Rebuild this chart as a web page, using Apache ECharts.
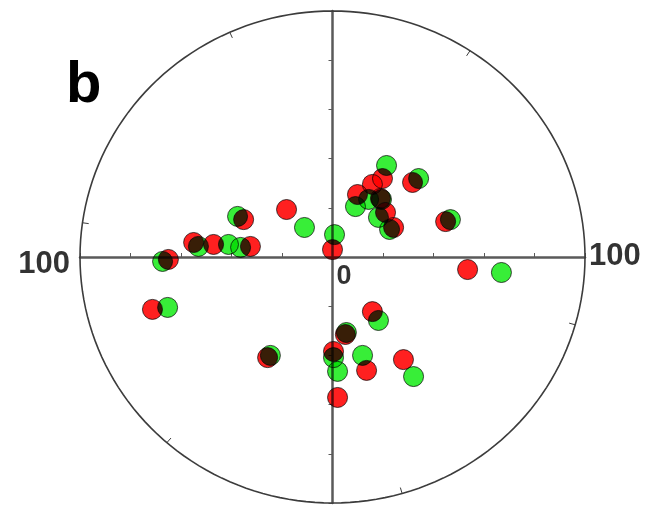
<!DOCTYPE html>
<html>
<head>
<meta charset="utf-8">
<script src="https://cdn.jsdelivr.net/npm/echarts@6/dist/echarts.min.js"></script>
<style>
  html, body { margin: 0; padding: 0; background: #fff; }
  #chart { width: 652px; height: 505px; }
</style>
</head>
<body>
<div id="chart"></div>
<script>
// data, x/y in axis units (-100..100)
var redPoints = [
  [19.8, 31.9], [15.8, 29.5], [9.9, 25.4], [19.0, 23.8], [21.0, 18.1],
  [24.2, 12.0], [31.7, 30.3], [44.8, 14.4], [0.0, 3.0], [-65.0, -1.0],
  [-55.0, 5.9], [-47.1, 5.1], [-32.5, 4.3], [-35.2, 15.2], [-18.2, 19.3],
  [15.8, -22.2], [5.1, -31.5], [-25.7, -40.9], [0.4, -38.4], [13.5, -46.1],
  [28.1, -41.7], [2.0, -57.1], [53.5, -5.1], [-71.3, -21.3]
];
var greenPoints = [
  [21.4, 37.2], [9.1, 20.5], [14.3, 23.4], [19.4, 23.4], [18.2, 16.1],
  [22.6, 11.2], [34.1, 31.9], [46.7, 15.2], [0.8, 9.1], [-67.3, -1.8],
  [-53.1, 4.3], [-41.2, 5.1], [-36.4, 3.9], [-37.6, 16.5], [-11.1, 12.0],
  [18.2, -25.8], [5.5, -30.7], [-24.6, -40.0], [0.4, -40.9], [11.9, -40.0],
  [2.0, -46.5], [32.1, -48.6], [66.9, -6.3], [-65.3, -20.5]
];
// small ticks on the outer circle (azimuth, degrees clockwise from north)
var ringTicks = [33, 106, 164, 221, 278, 336];
// axis end labels
var tickLabels = [
  { value: [-100, 0], text: '100' },
  { value: [0, 0], text: '0' },
  { value: [100, 0], text: '100' }
];
var panelLabel = 'b';

var chart = echarts.init(document.getElementById('chart'), null, { renderer: 'canvas' });

var axisCommon = {
  type: 'value',
  min: -100,
  max: 100,
  interval: 20,
  axisLine: { show: true, onZero: true, lineStyle: { color: '#5a5a5a', width: 2.5 } },
  axisLabel: { show: false },
  splitLine: { show: false }
};

chart.setOption({
  animation: false,
  backgroundColor: '#fff',
  grid: { left: 80, right: 67, top: 11, bottom: 2 },
  xAxis: Object.assign({}, axisCommon, {
    axisTick: { show: true, inside: true, length: 4, lineStyle: { color: '#5a5a5a', width: 1 } }
  }),
  yAxis: Object.assign({}, axisCommon, {
    axisTick: { show: true, inside: false, length: 4, lineStyle: { color: '#5a5a5a', width: 1 } }
  }),
  graphic: [{
    type: 'text',
    x: 66,
    y: 86,
    style: {
      text: panelLabel,
      font: 'bold 58px "Liberation Sans", Arial, sans-serif',
      fill: '#000',
      verticalAlign: 'middle'
    }
  }],
  series: [
    {
      type: 'custom',
      name: 'ring',
      clip: false,
      silent: true,
      data: [[0, 0]],
      renderItem: function (params, api) {
        var pts = [];
        for (var a = 0; a <= 360; a += 2) {
          var r = a * Math.PI / 180;
          pts.push(api.coord([100 * Math.sin(r), 100 * Math.cos(r)]));
        }
        var children = [{
          type: 'polyline',
          shape: { points: pts },
          style: { fill: null, stroke: '#3c3c3c', lineWidth: 1.6 }
        }];
        ringTicks.forEach(function (d) {
          var r = d * Math.PI / 180;
          var p1 = api.coord([97.5 * Math.sin(r), 97.5 * Math.cos(r)]);
          var p2 = api.coord([100 * Math.sin(r), 100 * Math.cos(r)]);
          children.push({
            type: 'line',
            shape: { x1: p1[0], y1: p1[1], x2: p2[0], y2: p2[1] },
            style: { stroke: '#3c3c3c', lineWidth: 1 }
          });
        });
        return { type: 'group', children: children };
      }
    },
    {
      type: 'scatter',
      name: 'green',
      data: greenPoints,
      symbolSize: 20,
      blendMode: 'multiply',
      itemStyle: { color: '#38ee38', borderColor: '#4a4a4a', borderWidth: 1, opacity: 1 }
    },
    {
      type: 'scatter',
      name: 'red',
      data: redPoints,
      symbolSize: 20,
      blendMode: 'multiply',
      itemStyle: { color: '#ff2020', borderColor: '#4a4a4a', borderWidth: 1, opacity: 1 }
    },
    {
      type: 'scatter',
      name: 'labels',
      silent: true,
      symbolSize: 0,
      data: tickLabels.map(function (t, i) {
        var pos, align, size;
        if (i === 0) { pos = [-10, 7.5]; align = 'right'; size = 31; }
        else if (i === 1) { pos = [4, 19.5]; align = 'left'; size = 27; }
        else { pos = [4, -1]; align = 'left'; size = 31; }
        return {
          value: t.value,
          label: {
            show: true,
            formatter: t.text,
            position: pos,
            align: align,
            verticalAlign: 'middle',
            fontSize: size,
            fontWeight: 'bold',
            fontFamily: '"Liberation Sans", Arial, sans-serif',
            color: '#000'
          }
        };
      })
    }
  ]
});
window.addEventListener('resize', function () { chart.resize(); });
</script>
</body>
</html>
